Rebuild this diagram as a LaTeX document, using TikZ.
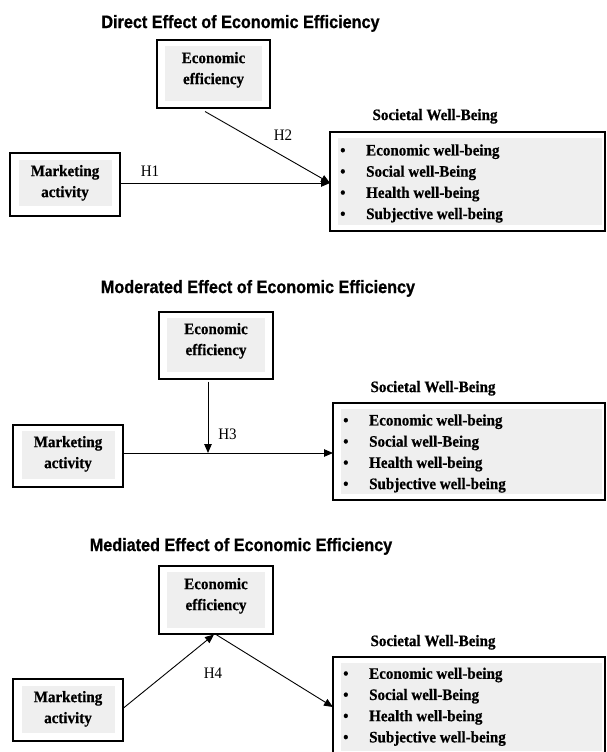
\documentclass[tikz,border=0pt]{standalone}
\usepackage{fontspec}
\setmainfont{Liberation Serif}[FakeStretch=0.94, BoldFeatures={FakeBold=0.6}]
\newfontfamily\titlefont{Liberation Sans}[FakeStretch=0.9, BoldFeatures={FakeBold=0.8}]
\usetikzlibrary{arrows.meta}
\definecolor{boxgray}{RGB}{239,239,239}
\tikzset{
  outerbox/.style={draw, line width=1.3pt, inner sep=0pt, fill=white},
  graybox/.style={fill=boxgray, inner sep=0pt},
  txt/.style={font=\fontsize{16}{21}\selectfont\bfseries, align=center, inner sep=0pt},
  listtxt/.style={font=\fontsize{16}{21.2}\selectfont\bfseries, align=left, inner sep=0pt, anchor=west},
  hlabel/.style={font=\fontsize{16}{19}\selectfont, inner sep=0pt},
  paneltitle/.style={font=\titlefont\fontsize{18}{21}\selectfont\bfseries, inner sep=0pt},
  arr/.style={-{Triangle[length=9pt,width=7.5pt]}, line width=0.9pt}
}
\newcommand{\wellbeinglist}{\makebox[26pt][l]{\textbullet}Economic well-being\\
\makebox[26pt][l]{\textbullet}Social well-Being\\
\makebox[26pt][l]{\textbullet}Health well-being\\
\makebox[26pt][l]{\textbullet}Subjective well-being}
\begin{document}
\begin{tikzpicture}[x=1pt,y=-1pt]
\clip (0,0) rectangle (606,752);
\fill[white] (0,0) rectangle (606,752);

% ---------------- Panel 1 ----------------
\node[paneltitle] (t1) at (240.5,23.4) {Direct Effect of Economic Efficiency};
\node[outerbox, minimum width=113pt, minimum height=68pt] (e1) at (213.5,74) {};
\node[graybox, minimum width=97pt, minimum height=55pt] (e1g) at (213.5,73.5) {};
\node[txt] (e1t) at (213.5,69.8) {Economic\\efficiency};
\node[outerbox, minimum width=110pt, minimum height=63pt] (m1) at (65,184.5) {};
\node[graybox, minimum width=93pt, minimum height=46pt] (m1g) at (65.5,183) {};
\node[txt] (m1t) at (65,182.8) {Marketing\\activity};
\node[txt] (s1h) at (435,116.3) {Societal Well-Being};
\node[outerbox, minimum width=275pt, minimum height=99pt] (s1) at (467.5,181.5) {};
\node[graybox, minimum width=264pt, minimum height=87pt] (s1g) at (470,181.5) {};
\node[listtxt] (s1l) at (340,183.5) {\wellbeinglist};
\coordinate (a1) at (330,183);
\coordinate (m1o) at (120.5,183);
\coordinate (e1o) at (205,111.5);
\draw[arr] (m1o) -- (a1);
\draw[arr] (e1o) -- (a1);
\node[hlabel] (h1) at (150,171.5) {H1};
\node[hlabel] (h2) at (283,135.5) {H2};

% ---------------- Panel 2 ----------------
\node[paneltitle] (t2) at (258,288.4) {Moderated Effect of Economic Efficiency};
\node[outerbox, minimum width=114pt, minimum height=67pt] (e2) at (216,345.5) {};
\node[graybox, minimum width=98pt, minimum height=54pt] (e2g) at (216,345) {};
\node[txt] (e2t) at (216,340.8) {Economic\\efficiency};
\node[outerbox, minimum width=110pt, minimum height=62pt] (m2) at (68,456) {};
\node[graybox, minimum width=93pt, minimum height=48pt] (m2g) at (68.5,455) {};
\node[txt] (m2t) at (68,453.8) {Marketing\\activity};
\node[txt] (s2h) at (433,388.3) {Societal Well-Being};
\node[outerbox, minimum width=272pt, minimum height=97pt] (s2) at (469,451.5) {};
\node[graybox, minimum width=261pt, minimum height=85pt] (s2g) at (471.5,451.5) {};
\node[listtxt] (s2l) at (343,453.5) {\wellbeinglist};
\coordinate (a2) at (333,453);
\coordinate (m2o) at (123.5,453);
\coordinate (v2s) at (208,381.5);
\coordinate (v2e) at (208,453);
\draw[arr] (m2o) -- (a2);
\draw[arr] (v2s) -- (v2e);
\node[hlabel] (h3) at (227.5,434) {H3};

% ---------------- Panel 3 ----------------
\node[paneltitle] (t3) at (241,546.4) {Mediated Effect of Economic Efficiency};
\node[outerbox, minimum width=114pt, minimum height=68pt] (e3) at (216,600) {};
\node[graybox, minimum width=98pt, minimum height=56pt] (e3g) at (216,600) {};
\node[txt] (e3t) at (216,595.8) {Economic\\efficiency};
\node[outerbox, minimum width=110pt, minimum height=62pt] (m3) at (68,710) {};
\node[graybox, minimum width=93pt, minimum height=47pt] (m3g) at (68.5,709.5) {};
\node[txt] (m3t) at (68,708.8) {Marketing\\activity};
\node[txt] (s3h) at (433,642.3) {Societal Well-Being};
\node[outerbox, minimum width=272pt, minimum height=100pt] (s3) at (469,707) {};
\node[graybox, minimum width=261pt, minimum height=88pt] (s3g) at (471.5,707) {};
\node[listtxt] (s3l) at (343,706.8) {\wellbeinglist};
\coordinate (m3o) at (123.5,708);
\coordinate (e3in) at (214,634.5);
\coordinate (e3out) at (216,634.5);
\coordinate (a3) at (333,707);
\draw[arr] (m3o) -- (e3in);
\draw[arr] (e3out) -- (a3);
\node[hlabel] (h4) at (213,673.5) {H4};
\end{tikzpicture}
\end{document}
